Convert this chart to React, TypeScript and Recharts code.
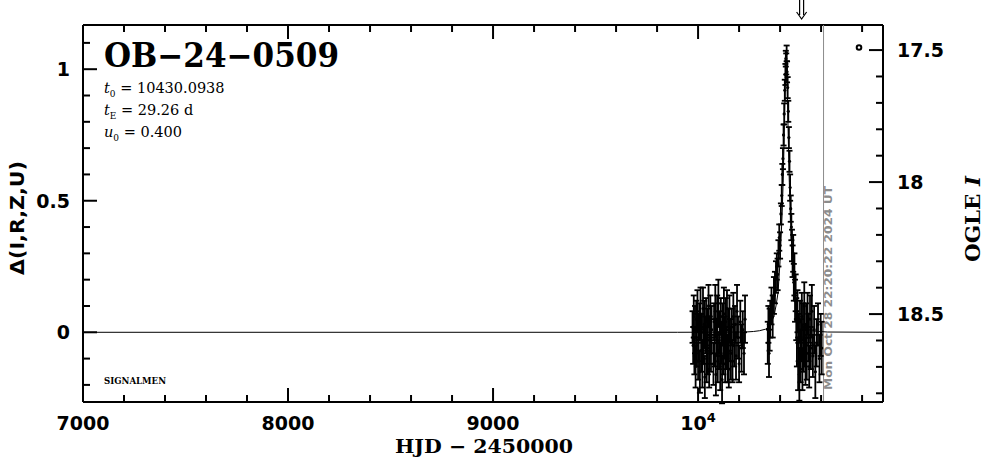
import React from 'react';
import {
  ComposedChart, Line, Scatter, ErrorBar, XAxis, YAxis,
  ReferenceLine, ReferenceDot,
} from 'recharts';

const W = 986;
const H = 459;
const LEFT_W = 83;
const RIGHT_W = 103;
const TOP = 25;
const BOTTOM_H = 57;
const PLOT_L = LEFT_W;
const PLOT_R = W - RIGHT_W;
const PLOT_T = TOP;
const PLOT_B = H - BOTTOM_H;

const X_DOMAIN = [7000, 10902];
const DELTA_DOMAIN = [-0.265, 1.168];
const MAG_DOMAIN = [17.405, 18.833];

const X_TICKS = [
  7000, 7200, 7400, 7600, 7800, 8000, 8200, 8400, 8600, 8800, 9000, 9200, 9400,
  9600, 9800, 10000, 10200, 10400, 10600, 10800,
];
const X_MAJOR = [7000, 8000, 9000, 10000];

const DELTA_TICKS = [-0.2, -0.1, 0, 0.1, 0.2, 0.3, 0.4, 0.5, 0.6, 0.7, 0.8, 0.9, 1, 1.1];
const DELTA_MAJOR = [0, 0.5, 1];

const MAG_TICKS = [17.5, 17.6, 17.7, 17.8, 17.9, 18, 18.1, 18.2, 18.3, 18.4, 18.5, 18.6, 18.7, 18.8];
const MAG_MAJOR = [17.5, 18, 18.5];

// fitted model (t, delta)
const MODEL_T = [
  7000, 9900, 10230, 10270, 10300, 10330, 10350, 10370, 10380, 10390, 10400, 10410,
  10415, 10420, 10425, 10430, 10435, 10440, 10445, 10450, 10460, 10470, 10480, 10490,
  10510, 10530, 10560, 10630, 10902,
];
const MODEL_D = [
  0, 0, 0.001, 0.003, 0.006, 0.012, 0.025, 0.06, 0.1, 0.15, 0.27, 0.45,
  0.57, 0.74, 0.93, 1.05, 0.93, 0.74, 0.57, 0.45, 0.27, 0.15, 0.1, 0.06,
  0.025, 0.012, 0.005, 0.001, 0,
];

// observations [HJD-2450000, delta, error]
const SEASON_1 = [
  [9973, 0.02, 0.06], [9976, -0.05, 0.07], [9979, 0.06, 0.08], [9982, -0.09, 0.07],
  [9985, 0.01, 0.09], [9988, -0.13, 0.08], [9991, 0.05, 0.07], [9994, -0.03, 0.1],
  [9997, 0.08, 0.08], [10000, -0.11, 0.07], [10003, -0.02, 0.09], [10006, 0.04, 0.07],
  [10009, -0.15, 0.08], [10012, 0.07, 0.1], [10015, -0.07, 0.08], [10018, 0, 0.07],
  [10021, -0.12, 0.09], [10024, 0.09, 0.08], [10027, -0.05, 0.07], [10030, 0.03, 0.09],
  [10033, -0.17, 0.08], [10036, -0.01, 0.07], [10039, 0.05, 0.08], [10042, -0.1, 0.09],
  [10045, 0.02, 0.07], [10048, -0.06, 0.1], [10051, 0.1, 0.08], [10054, -0.14, 0.07],
  [10057, -0.03, 0.09], [10060, 0.06, 0.08], [10063, -0.08, 0.07], [10066, 0.01, 0.09],
  [10075, -0.12, 0.08], [10078, 0.04, 0.07], [10081, -0.04, 0.09], [10084, 0.08, 0.1],
  [10087, -0.16, 0.08], [10090, -0.02, 0.07], [10093, 0.05, 0.09], [10096, -0.11, 0.08],
  [10099, 0.11, 0.09], [10102, -0.07, 0.07], [10105, 0, 0.08], [10108, -0.13, 0.09],
  [10111, 0.06, 0.07], [10114, -0.04, 0.08], [10117, -0.18, 0.09], [10120, 0.03, 0.08],
  [10123, -0.09, 0.07], [10126, 0.07, 0.1], [10129, -0.02, 0.08], [10132, -0.12, 0.07],
  [10135, 0.04, 0.09], [10138, -0.06, 0.08], [10141, 0.09, 0.07], [10144, -0.1, 0.09],
  [10147, 0.01, 0.08], [10150, -0.14, 0.07], [10153, 0.05, 0.09], [10156, -0.03, 0.08],
  [10160, -0.08, 0.1], [10164, 0.02, 0.07], [10168, -0.11, 0.08], [10172, 0.06, 0.09],
  [10176, -0.05, 0.08], [10180, 0.03, 0.07], [10185, -0.09, 0.09], [10190, 0.08, 0.1],
  [10195, -0.02, 0.08], [10200, -0.12, 0.07], [10206, 0.04, 0.08], [10212, -0.06, 0.09],
  [10218, 0.01, 0.07], [10224, -0.08, 0.08], [10229, 0.05, 0.09],
];

const SEASON_2 = [
  [10340, -0.04, 0.08], [10343, 0.03, 0.07], [10346, -0.08, 0.09], [10349, 0.01, 0.08],
  [10352, 0.05, 0.07], [10358, 0.1, 0.07], [10364, 0.06, 0.08], [10370, 0.14, 0.07],
  [10375, 0.17, 0.06], [10380, 0.21, 0.06], [10384, 0.25, 0.05], [10388, 0.22, 0.06],
  [10392, 0.3, 0.05], [10396, 0.36, 0.05], [10400, 0.33, 0.05], [10404, 0.45, 0.04],
  [10408, 0.52, 0.04], [10411, 0.6, 0.04], [10414, 0.66, 0.04], [10417, 0.75, 0.04],
  [10420, 0.83, 0.04], [10423, 0.92, 0.04], [10426, 0.98, 0.04], [10428, 1.04, 0.03],
  [10430, 1.02, 0.04], [10432, 1.06, 0.03], [10434, 0.99, 0.04], [10437, 0.93, 0.04],
  [10440, 0.84, 0.04], [10443, 0.74, 0.04], [10446, 0.65, 0.04], [10449, 0.55, 0.05],
  [10452, 0.47, 0.05], [10455, 0.4, 0.05], [10458, 0.33, 0.06], [10461, 0.27, 0.06],
  [10464, 0.3, 0.07], [10467, 0.19, 0.07], [10470, 0.22, 0.08], [10473, 0.12, 0.08],
  [10476, 0.15, 0.07], [10479, 0.05, 0.08], [10482, -0.04, 0.09], [10485, 0.08, 0.08],
  [10488, -0.12, 0.1], [10491, -0.02, 0.09], [10494, -0.16, 0.1], [10497, 0.04, 0.08],
  [10500, -0.09, 0.1], [10503, -0.03, 0.08], [10506, 0.06, 0.09], [10509, -0.14, 0.08],
  [10512, 0.02, 0.09], [10515, -0.07, 0.08], [10518, 0.1, 0.09], [10521, -0.05, 0.08],
  [10524, -0.11, 0.09], [10527, 0.03, 0.08], [10530, -0.08, 0.1], [10534, 0.07, 0.08],
  [10538, -0.02, 0.09], [10542, -0.13, 0.08], [10546, 0.05, 0.09], [10550, -0.06, 0.08],
  [10555, 0.08, 0.1], [10560, -0.09, 0.08], [10566, 0.01, 0.09], [10572, -0.15, 0.1],
  [10578, -0.04, 0.09], [10585, 0.03, 0.08], [10592, -0.1, 0.09], [10598, -0.01, 0.08],
  [10603, -0.06, 0.1],
];

const NOW_HJD = 10612;
const NOW_LABEL = 'Mon Oct 28 22:20:22 2024 UT';
const ARROW_T = 10505;
const MARKER = [{ t: 10785, m: 17.49 }];

const modelData = MODEL_T.map((t, i) => ({ t, d: MODEL_D[i] }));
const toObs = (rows: number[][]) => rows.map(([t, d, e]) => ({ t, d, e }));
const obs1 = toObs(SEASON_1);
const obs2 = toObs(SEASON_2);

const SANS = '"DejaVu Sans", sans-serif';
const SERIF = '"DejaVu Serif", serif';

const XTick = (props: any) => {
  const { x, payload } = props;
  const v = payload.value;
  const major = X_MAJOR.includes(v);
  const len = major ? 14 : 7;
  return (
    <g>
      <line x1={x} x2={x} y1={PLOT_B} y2={PLOT_B - len} stroke="#000" strokeWidth={2} />
      <line x1={x} x2={x} y1={PLOT_T} y2={PLOT_T + len} stroke="#000" strokeWidth={2} />
      {major && (
        <text x={x} y={PLOT_B + 28} textAnchor="middle" fontFamily={SANS} fontWeight="bold" fontSize={19} fill="#000">
          {v === 10000 ? (
            <>
              <tspan>10</tspan>
              <tspan dy={-8} fontSize={13}>4</tspan>
            </>
          ) : String(v)}
        </text>
      )}
    </g>
  );
};

const LeftTick = (props: any) => {
  const { y, payload } = props;
  const v = payload.value;
  const major = DELTA_MAJOR.includes(v);
  const len = major ? 14 : 7;
  return (
    <g>
      <line x1={PLOT_L} x2={PLOT_L + len} y1={y} y2={y} stroke="#000" strokeWidth={2} />
      {major && (
        <text x={PLOT_L - 13} y={y + 7} textAnchor="end" fontFamily={SANS} fontWeight="bold" fontSize={19} fill="#000">
          {String(v)}
        </text>
      )}
    </g>
  );
};

const RightTick = (props: any) => {
  const { y, payload } = props;
  const v = payload.value;
  const major = MAG_MAJOR.includes(v);
  const len = major ? 14 : 7;
  return (
    <g>
      <line x1={PLOT_R} x2={PLOT_R - len} y1={y} y2={y} stroke="#000" strokeWidth={2} />
      {major && (
        <text x={PLOT_R + 14} y={y + 7} textAnchor="start" fontFamily={SANS} fontWeight="bold" fontSize={19} fill="#000">
          {String(v)}
        </text>
      )}
    </g>
  );
};

const Dot = (props: any) => <circle cx={props.cx} cy={props.cy} r={1.6} fill="#000" />;
const Ring = (props: any) => (
  <circle cx={props.cx} cy={props.cy} r={2.3} fill="none" stroke="#000" strokeWidth={2} />
);
const Arrow = (props: any) => {
  const { cx, cy } = props;
  return (
    <g stroke="#000" strokeWidth={1.2} fill="none">
      <line x1={cx - 2} x2={cx - 2} y1={cy - 26} y2={cy - 10} />
      <line x1={cx + 2} x2={cx + 2} y1={cy - 26} y2={cy - 10} />
      <polyline points={`${cx - 5},${cy - 13} ${cx},${cy - 6} ${cx + 5},${cy - 13}`} />
    </g>
  );
};

const NowLabel = (props: any) => {
  const vb = props.viewBox || {};
  const x = (vb.x ?? 0) + 8;
  const y = (vb.y ?? 0) + (vb.height ?? 0) - 12;
  return (
    <text
      transform={`translate(${x},${y}) rotate(-90)`}
      fontFamily={SANS}
      fontWeight="bold"
      fontSize={10}
      fill="#8c8c8c"
      textLength={204}
      lengthAdjust="spacingAndGlyphs"
    >
      {NOW_LABEL}
    </text>
  );
};

export default function App() {
  return (
    <div style={{ position: 'absolute', left: 0, top: 0, width: W, height: H, background: '#fff' }}>
      <ComposedChart width={W} height={H} margin={{ top: TOP, right: 0, bottom: 0, left: 0 }}>
        <XAxis
          dataKey="t"
          type="number"
          domain={X_DOMAIN}
          allowDataOverflow
          ticks={X_TICKS}
          interval={0}
          height={BOTTOM_H}
          tick={<XTick />}
          tickLine={false}
          axisLine={{ stroke: '#000', strokeWidth: 2 }}
        />
        <YAxis
          yAxisId="left"
          dataKey="d"
          type="number"
          domain={DELTA_DOMAIN}
          allowDataOverflow
          ticks={DELTA_TICKS}
          interval={0}
          width={LEFT_W}
          tick={<LeftTick />}
          tickLine={false}
          axisLine={{ stroke: '#000', strokeWidth: 2 }}
        />
        <YAxis
          yAxisId="right"
          orientation="right"
          dataKey="m"
          type="number"
          domain={MAG_DOMAIN}
          reversed
          allowDataOverflow
          ticks={MAG_TICKS}
          interval={0}
          width={RIGHT_W}
          tick={<RightTick />}
          tickLine={false}
          axisLine={{ stroke: '#000', strokeWidth: 2 }}
        />
        <ReferenceLine yAxisId="left" y={DELTA_DOMAIN[1]} stroke="#000" strokeWidth={2} ifOverflow="visible" />
        <ReferenceLine yAxisId="left" x={NOW_HJD} stroke="#8c8c8c" strokeWidth={1} label={NowLabel} />
        <Line
          yAxisId="left"
          data={modelData}
          dataKey="d"
          type="linear"
          stroke="#000"
          strokeWidth={1}
          dot={false}
          isAnimationActive={false}
        />
        <Scatter yAxisId="left" data={obs1} dataKey="d" shape={<Dot />} isAnimationActive={false}>
          <ErrorBar dataKey="e" direction="y" width={3} stroke="#000" strokeWidth={1.8} isAnimationActive={false} />
        </Scatter>
        <Scatter yAxisId="left" data={obs2} dataKey="d" shape={<Dot />} isAnimationActive={false}>
          <ErrorBar dataKey="e" direction="y" width={3} stroke="#000" strokeWidth={1.8} isAnimationActive={false} />
        </Scatter>
        <Scatter yAxisId="right" data={MARKER} dataKey="m" shape={<Ring />} isAnimationActive={false} />
        <ReferenceDot yAxisId="left" x={ARROW_T} y={DELTA_DOMAIN[1]} ifOverflow="visible" shape={<Arrow />} />
      </ComposedChart>
      <svg width={W} height={H} style={{ position: 'absolute', left: 0, top: 0, pointerEvents: 'none' }}>
        <text x={104} y={67} fontFamily={SERIF} fontWeight="bold" fontSize={33} textLength={235} lengthAdjust="spacingAndGlyphs" fill="#000">
          OB−24−0509
        </text>
        <text x={104} y={93} fontFamily={SERIF} fontSize={14.5} fill="#000">
          <tspan fontStyle="italic">t</tspan>
          <tspan dy={4} fontSize={9}>0</tspan>
          <tspan dy={-4}> = 10430.0938</tspan>
        </text>
        <text x={104} y={115} fontFamily={SERIF} fontSize={14.5} fill="#000">
          <tspan fontStyle="italic">t</tspan>
          <tspan dy={4} fontSize={9}>E</tspan>
          <tspan dy={-4}> = 29.26 d</tspan>
        </text>
        <text x={104} y={137} fontFamily={SERIF} fontSize={14.5} fill="#000">
          <tspan fontStyle="italic">u</tspan>
          <tspan dy={4} fontSize={9}>0</tspan>
          <tspan dy={-4}> = 0.400</tspan>
        </text>
        <text x={104} y={384} fontFamily={SERIF} fontWeight="bold" fontSize={10} textLength={62} lengthAdjust="spacingAndGlyphs" fill="#000">
          SIGNALMEN
        </text>
        <text x={484} y={453} textAnchor="middle" fontFamily={SERIF} fontWeight="bold" fontSize={19} textLength={178} lengthAdjust="spacingAndGlyphs" fill="#000">
          HJD − 2450000
        </text>
        <text transform="translate(24,218) rotate(-90)" textAnchor="middle" fontFamily={SANS} fontWeight="bold" fontSize={19} textLength={114} lengthAdjust="spacingAndGlyphs" fill="#000">
          Δ(I,R,Z,U)
        </text>
        <text transform="translate(980,219) rotate(-90)" textAnchor="middle" fontFamily={SERIF} fontWeight="bold" fontSize={20} textLength={86} lengthAdjust="spacingAndGlyphs" fill="#000">
          OGLE <tspan fontStyle="italic">I</tspan>
        </text>
      </svg>
    </div>
  );
}
